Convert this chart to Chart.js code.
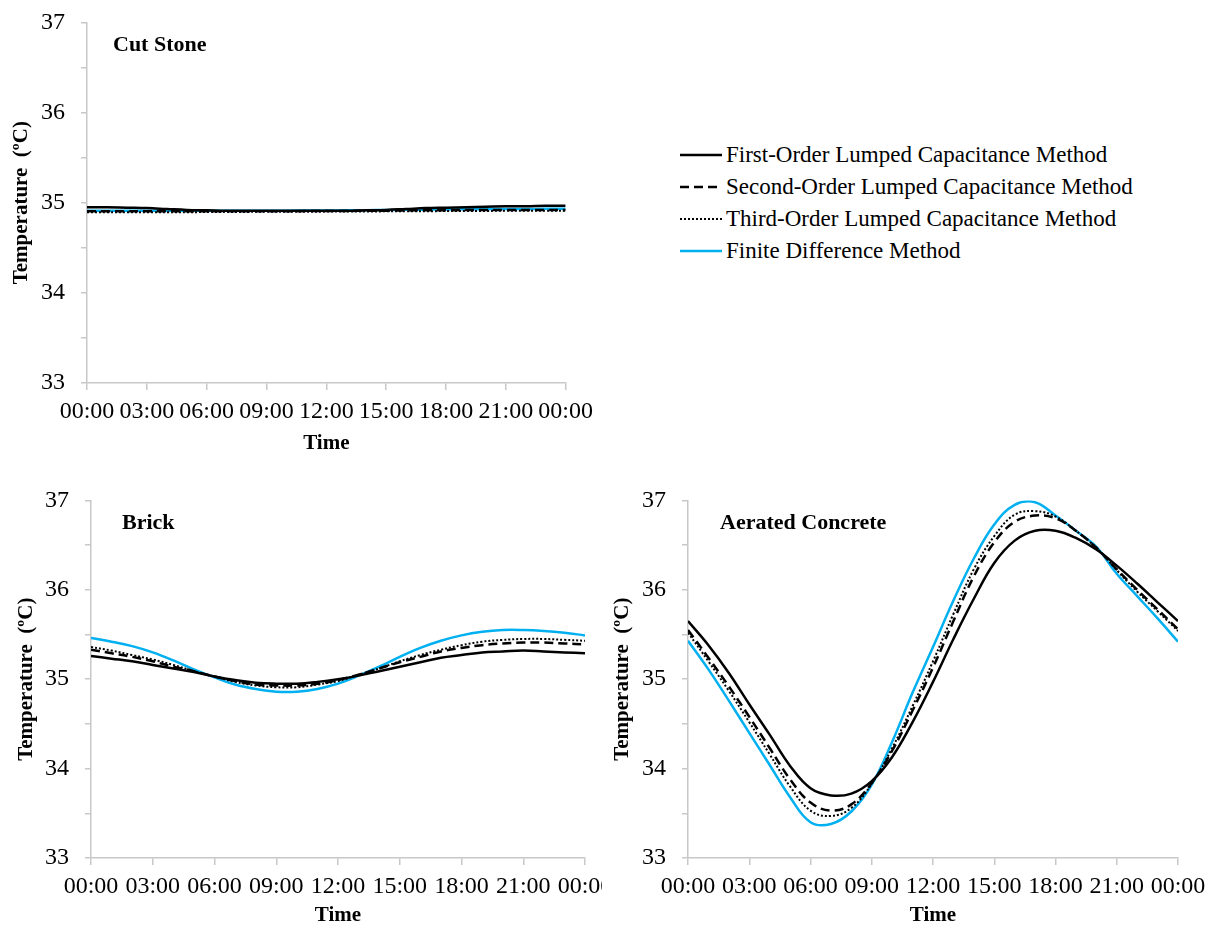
<!DOCTYPE html>
<html>
<head>
<meta charset="utf-8">
<script src="https://cdn.jsdelivr.net/npm/chart.js@4.4.0/dist/chart.umd.min.js"></script>
<style>
  body { margin: 0; background: #fff; width: 1213px; height: 929px; position: relative; overflow: hidden; font-family: 'Liberation Serif', 'Times New Roman', serif; color: #000; }
  .box { position: absolute; overflow: hidden; }
  .panel-title { position: absolute; font-weight: bold; font-size: 22px; line-height: 1; }
  #legend { position: absolute; left: 680px; top: 139px; font-size: 23px; }
  .row { height: 32px; display: flex; align-items: center; white-space: nowrap; }
  .row svg { margin-right: 4px; }
</style>
</head>
<body>

<div class="box" style="left:0;top:-8px;width:600px;height:468px"><canvas id="cut" width="600" height="464"></canvas></div>
<div class="box" style="left:0;top:470px;width:602px;height:459px"><canvas id="brick" width="640" height="458"></canvas></div>
<div class="box" style="left:600px;top:470px;width:613px;height:459px"><canvas id="conc" width="613" height="458"></canvas></div>

<div class="panel-title" style="left:113px;top:33px">Cut Stone</div>
<div class="panel-title" style="left:122px;top:511px">Brick</div>
<div class="panel-title" style="left:720px;top:511px">Aerated Concrete</div>

<div id="legend"></div>

<script>
// time axis, hours 0..24
const hours = [0,1,2,3,4,5,6,7,8,9,10,11,12,13,14,15,16,17,18,19,20,21,22,23,24];
const timeLabels = ['00:00','03:00','06:00','09:00','12:00','15:00','18:00','21:00','00:00'];
const seriesNames = ['First-Order Lumped Capacitance Method', 'Second-Order Lumped Capacitance Method',
                     'Third-Order Lumped Capacitance Method', 'Finite Difference Method'];

// Cut Stone
const cutFirst  = [34.95,34.95,34.945,34.94,34.93,34.92,34.915,34.91,34.91,34.91,34.91,34.91,34.91,34.91,34.915,34.92,34.93,34.94,34.945,34.95,34.955,34.96,34.96,34.965,34.965];
const cutSecond = [34.905,34.905,34.905,34.905,34.905,34.905,34.905,34.905,34.905,34.905,34.906,34.907,34.908,34.909,34.91,34.912,34.914,34.916,34.917,34.918,34.919,34.92,34.92,34.92,34.92];
const cutThird  = [34.895,34.895,34.895,34.895,34.895,34.895,34.896,34.897,34.898,34.899,34.9,34.9,34.901,34.902,34.903,34.904,34.905,34.906,34.907,34.908,34.909,34.91,34.91,34.91,34.91];
const cutFD     = [34.91,34.91,34.91,34.91,34.91,34.91,34.91,34.91,34.91,34.91,34.912,34.913,34.914,34.915,34.917,34.919,34.921,34.923,34.925,34.927,34.929,34.93,34.931,34.932,34.933];

// Brick
const brickFirst  = [35.26,35.23,35.20,35.16,35.12,35.08,35.03,34.99,34.96,34.95,34.95,34.97,35.00,35.04,35.09,35.14,35.19,35.24,35.27,35.30,35.31,35.32,35.31,35.30,35.29];
const brickSecond = [35.33,35.29,35.25,35.20,35.14,35.09,35.03,34.98,34.94,34.93,34.93,34.95,34.99,35.05,35.12,35.19,35.25,35.31,35.35,35.38,35.40,35.41,35.41,35.40,35.39];
const brickThird  = [35.36,35.32,35.27,35.22,35.16,35.09,35.03,34.97,34.93,34.91,34.91,34.94,34.98,35.05,35.12,35.20,35.27,35.33,35.38,35.42,35.44,35.45,35.45,35.44,35.43];
const brickFD     = [35.46,35.42,35.37,35.30,35.21,35.11,35.02,34.94,34.89,34.86,34.86,34.89,34.95,35.04,35.14,35.25,35.35,35.43,35.49,35.53,35.55,35.55,35.54,35.52,35.49];

// Aerated Concrete
const concFirst  = [35.65,35.38,35.07,34.72,34.38,34.03,33.78,33.70,33.72,33.86,34.13,34.52,34.97,35.45,35.90,36.30,36.55,36.66,36.66,36.58,36.45,36.27,36.07,35.86,35.65];
const concSecond = [35.55,35.24,34.92,34.58,34.23,33.88,33.62,33.53,33.60,33.84,34.20,34.65,35.13,35.65,36.15,36.53,36.76,36.83,36.80,36.66,36.47,36.23,36.00,35.78,35.56];
const concThird  = [35.52,35.20,34.87,34.52,34.16,33.80,33.53,33.47,33.56,33.83,34.23,34.70,35.20,35.73,36.23,36.60,36.84,36.88,36.82,36.66,36.47,36.22,35.98,35.76,35.54];
const concFD     = [35.43,35.11,34.76,34.40,34.04,33.68,33.40,33.38,33.52,33.82,34.30,34.85,35.36,35.88,36.35,36.73,36.95,36.98,36.83,36.66,36.48,36.18,35.93,35.68,35.42];

Chart.defaults.font.family = "'Liberation Serif', 'Times New Roman', serif";
Chart.defaults.color = '#000';

const styles = [
  { borderColor: '#000', borderWidth: 2.5, borderDash: [] },
  { borderColor: '#000', borderWidth: 2.5, borderDash: [9, 5] },
  { borderColor: '#000', borderWidth: 2, borderDash: [2, 2] },
  { borderColor: '#00b0f0', borderWidth: 2.5, borderDash: [] }
];
const axisGray = '#c8c8c8';

function makeChart(id, series, lay) {
  const datasets = series.map((vals, i) => ({
    label: seriesNames[i],
    data: hours.map((h, k) => ({ x: h, y: vals[k] })),
    ...styles[i],
    pointRadius: 0,
    fill: false,
    tension: 0.4
  }));
  return new Chart(document.getElementById(id), {
    type: 'line',
    data: { datasets },
    options: {
      responsive: false,
      animation: false,
      layout: { padding: { left: lay.left, top: lay.top, right: lay.right, bottom: 0 } },
      plugins: { legend: { display: false }, tooltip: { enabled: false } },
      scales: {
        x: {
          type: 'linear', min: 0, max: 24,
          ticks: { stepSize: 3, autoSkip: false, maxRotation: 0, font: { size: 24 }, padding: 7,
                   callback: v => timeLabels[v / 3] },
          grid: { drawOnChartArea: false, color: axisGray, lineWidth: 1.5, tickLength: 7 },
          border: { color: axisGray, width: 1.5 },
          title: { display: true, text: 'Time', font: { size: 21, weight: 'bold' }, padding: 0 },
          afterFit: s => { s.height = lay.xh; }
        },
        y: {
          min: 33, max: 37,
          ticks: { stepSize: 0.5, autoSkip: false, font: { size: 24 }, padding: 16,
                   callback: v => Number.isInteger(v) ? v : '' },
          grid: { drawOnChartArea: false, color: axisGray, lineWidth: 1.5, tickLength: 6 },
          border: { color: axisGray, width: 1.5 },
          title: { display: true, text: 'Temperature  (ºC)', font: { size: 21, weight: 'bold' }, padding: 0 },
          afterFit: s => { s.width = lay.yw; }
        }
      }
    }
  });
}

makeChart('cut',   [cutFirst, cutSecond, cutThird, cutFD],         { left: 9,  top: 30, right: 33, yw: 78, xh: 73 });
makeChart('brick', [brickFirst, brickSecond, brickThird, brickFD], { left: 14, top: 29, right: 55, yw: 77, xh: 70 });
makeChart('conc',  [concFirst, concSecond, concThird, concFD],     { left: 10, top: 29, right: 35, yw: 78, xh: 70 });

// legend
const legend = document.getElementById('legend');
seriesNames.forEach((name, i) => {
  const st = styles[i];
  const row = document.createElement('div');
  row.className = 'row';
  row.innerHTML = `<svg width="42" height="10"><line x1="0" y1="5" x2="42" y2="5" stroke="${st.borderColor}"
    stroke-width="${st.borderWidth}" stroke-dasharray="${st.borderDash.join(' ')}"/></svg><span>${name}</span>`;
  legend.appendChild(row);
});
</script>
</body>
</html>
